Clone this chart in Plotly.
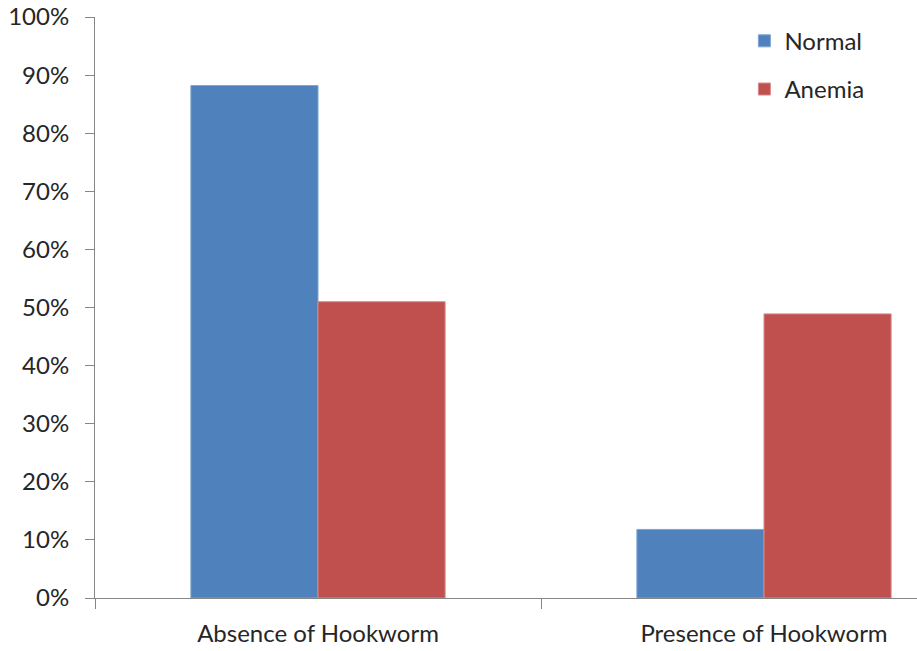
import plotly.graph_objects as go

# Share of children by hookworm status
groups = ["Absence of Hookworm", "Presence of Hookworm"]
normal = [88.2, 11.8]
anemia = [51.0, 48.9]
y_ticks = list(range(0, 101, 10))

pos = list(range(len(groups)))
font = dict(family="Lato, Liberation Sans, sans-serif", size=24, color="#262626")
axis_color = "#868686"

fig = go.Figure()
fig.add_trace(go.Bar(x=pos, y=normal, name="Normal", marker_color="#4F81BD",
                     marker_line=dict(color="#7FA3D0", width=1), legendgroup="n"))
fig.add_trace(go.Bar(x=pos, y=anemia, name="Anemia", marker_color="#C0504D",
                     marker_line=dict(color="#D88A88", width=1), legendgroup="a"))

fig.update_layout(
    width=917, height=651,
    margin=dict(l=95, r=0, t=17, b=53),
    paper_bgcolor="white", plot_bgcolor="white",
    barmode="group", bargap=0.43, bargroupgap=0,
    font=font,
    showlegend=True,
    legend=dict(x=0.79, y=0.997, xanchor="left", yanchor="top",
                tracegroupgap=14, bgcolor="rgba(0,0,0,0)",
                font=dict(size=24), itemwidth=30),
    xaxis=dict(
        range=[-0.5, -0.5 + 822 / 446],
        tickmode="array", tickvals=pos, ticktext=groups, ticks="",
        showline=True, linecolor=axis_color, linewidth=1,
        showgrid=False, zeroline=False,
        minor=dict(tickmode="array", tickvals=[-0.5, 0.5, 1.5], ticks="outside",
                   ticklen=10, tickcolor=axis_color, showgrid=False),
        ticklabelstandoff=14,
    ),
    yaxis=dict(
        range=[0, 100],
        tickmode="array", tickvals=y_ticks, ticktext=[f"{v}%" for v in y_ticks],
        ticks="outside", ticklen=9, tickcolor=axis_color,
        showline=True, linecolor=axis_color, linewidth=1,
        showgrid=False, zeroline=False,
        ticklabelstandoff=11,
    ),
)

fig.write_html("out.html")
